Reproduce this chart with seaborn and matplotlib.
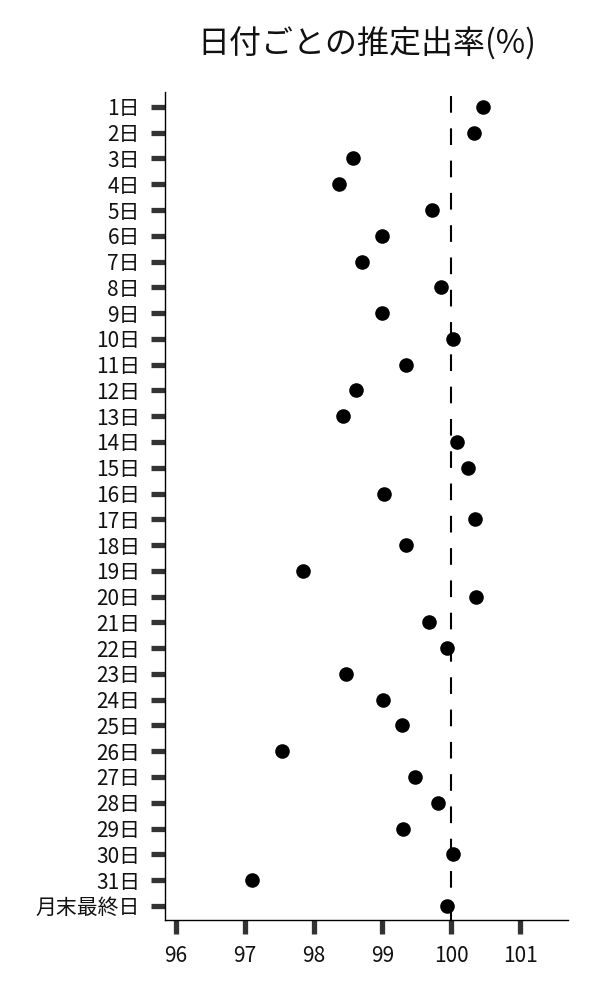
import matplotlib
matplotlib.use("Agg")
import matplotlib.pyplot as plt
import seaborn as sns
import pandas as pd

# data
days = [f"{i}日" for i in range(1, 32)] + ["月末最終日"]
rates = [100.46, 100.33, 98.57, 98.37, 99.72, 98.99, 98.71, 99.85, 99.00, 100.02,
         99.34, 98.61, 98.42, 100.08, 100.24, 99.03, 100.34, 99.34, 97.85, 100.36,
         99.68, 99.94, 98.47, 99.01, 99.29, 97.54, 99.47, 99.81, 99.30, 100.03,
         97.10, 99.94]
x_ticks = [96, 97, 98, 99, 100, 101]

df = pd.DataFrame({"day": days, "rate": rates})

sns.set_style("white")
plt.rcParams["font.family"] = ["Noto Sans CJK JP", "DejaVu Sans"]

fig = plt.figure(figsize=(6, 10), dpi=100)
ax = fig.add_axes([0.275, 0.08, 0.672, 0.828])

sns.stripplot(data=df, x="rate", y="day", order=days, jitter=False,
              color="black", size=10.5, linewidth=0, ax=ax)
ax.axvline(100, color="black", lw=1.5, dashes=(8, 7.5), zorder=0)

ax.set_xlim(95.84, 101.7)
ax.set_ylim(31.55, -0.58)
ax.set_xticks(x_ticks)
ax.set_xlabel("")
ax.set_ylabel("")
ax.tick_params(axis="both", which="major", left=True, bottom=True,
               length=10, width=3.8, color="#333333",
               labelsize=15, labelcolor="#111111", pad=8, direction="out")
for s in ["top", "right"]:
    ax.spines[s].set_visible(False)
for s in ["left", "bottom"]:
    ax.spines[s].set_color("black")
    ax.spines[s].set_linewidth(1.0)

fig.suptitle("日付ごとの推定出率(%)", fontsize=23, color="#111111", x=0.611, y=0.973)

fig.savefig("out.png", dpi=100)
